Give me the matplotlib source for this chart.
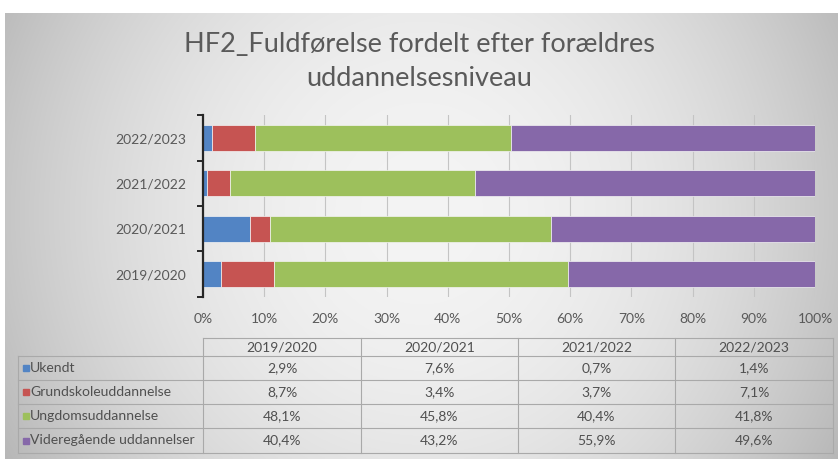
import numpy as np
import matplotlib
matplotlib.use("Agg")
import matplotlib.pyplot as plt
from matplotlib.patches import Rectangle
from matplotlib.lines import Line2D

plt.rcParams['font.family'] = ['Lato', 'DejaVu Sans']

# ---- data ----
years = ["2019/2020", "2020/2021", "2021/2022", "2022/2023"]
series = ["Ukendt", "Grundskoleuddannelse", "Ungdomsuddannelse", "Videregående uddannelser"]
ukendt = [2.9, 7.6, 0.7, 1.4]
grundskole = [8.7, 3.4, 3.7, 7.1]
ungdom = [48.1, 45.8, 40.4, 41.8]
videre = [40.4, 43.2, 55.9, 49.6]
colors = ["#5284c4", "#c65452", "#9dc05c", "#8668a9"]
xtick_labels = ["0%", "10%", "20%", "30%", "40%", "50%", "60%", "70%", "80%", "90%", "100%"]
title = "HF2_Fuldførelse fordelt efter forældres\nuddannelsesniveau"

W, H = 838, 459
fig = plt.figure(figsize=(W / 100, H / 100), dpi=100)
fig.patch.set_facecolor("white")

def fx(px):
    return px / W

def fy(py):
    return 1 - py / H

# background gradient
bg = fig.add_axes([fx(5), 0, 1 - fx(5), 1 - 13 / H])
bg.axis("off")
xx = np.linspace(-1, 1, 400)
yy = np.linspace(-1, 1, 200)
X, Y = np.meshgrid(xx, yy)
V = (244 - 46 * X ** 2 - 12 * (Y + 0.1) ** 2) / 255.0
V = np.clip(V, 0, 1)
img = np.dstack([V, V, V])
bg.imshow(img, aspect="auto", extent=[0, 1, 0, 1], interpolation="bilinear")
bg.set_xlim(0, 1)
bg.set_ylim(0, 1)

# main axes
left, right = 203, 815
top, bottom = 115.4, 296.7
ax = fig.add_axes([fx(left), fy(bottom), fx(right - left), (bottom - top) / H])
ax.set_facecolor("none")

data = np.array([ukendt, grundskole, ungdom, videre])
totals = data.sum(axis=0)
norm = data / totals
ypos = np.arange(len(years))
base = np.zeros(len(years))
for i, s in enumerate(series):
    ax.barh(ypos, norm[i], left=base, height=0.57, color=colors[i],
            edgecolor="#f4f4f4", linewidth=0.5, zorder=3, label=s)
    base = base + norm[i]

ax.set_xlim(0, 1)
ax.set_ylim(-0.5, len(years) - 0.5)
ax.set_xticks(np.linspace(0, 1, 11))
ax.set_xticklabels(xtick_labels, fontsize=10, color="#595959")
ax.tick_params(axis="x", length=0, pad=12)
ax.grid(axis="x", color="#c4c4c4", linewidth=0.8, zorder=0)
ax.set_yticks(ypos)
ax.set_yticklabels(years, fontsize=10, color="#595959")
ax.tick_params(axis="y", which="major", length=0, pad=12)
ax.set_yticks(np.arange(-0.5, len(years)), minor=True)
ax.tick_params(axis="y", which="minor", length=4.5, width=1.4, color="#262626", direction="out")
for sp in ["top", "right", "bottom"]:
    ax.spines[sp].set_visible(False)
ax.spines["left"].set_color("#262626")
ax.spines["left"].set_linewidth(1.6)
ax.spines["left"].set_zorder(4)

# title
fig.text(0.5, fy(61), title, ha="center", va="center", fontsize=19.5,
         fontweight="normal", color="#5a5a5a", linespacing=1.45)

# data table
col_x = [18, 203, 361, 518, 675, 833]
row_y = [338.3, 356, 380, 404, 428.3, 452.7]
lc = "#a9a9a9"
lw = 0.8
fig.add_artist(Line2D([fx(col_x[1]), fx(col_x[-1])], [fy(row_y[0])] * 2, color=lc, lw=lw))
for yv in row_y[1:]:
    fig.add_artist(Line2D([fx(col_x[0]), fx(col_x[-1])], [fy(yv)] * 2, color=lc, lw=lw))
fig.add_artist(Line2D([fx(col_x[0])] * 2, [fy(row_y[1]), fy(row_y[-1])], color=lc, lw=lw))
for xv in col_x[1:]:
    fig.add_artist(Line2D([fx(xv)] * 2, [fy(row_y[0]), fy(row_y[-1])], color=lc, lw=lw))

tc = "#505050"
for j, yr in enumerate(years):
    cx = (col_x[j + 1] + col_x[j + 2]) / 2
    fig.text(fx(cx), fy((row_y[0] + row_y[1]) / 2), yr, ha="center", va="center",
             fontsize=10, color=tc)
for i, s in enumerate(series):
    cy = (row_y[i + 1] + row_y[i + 2]) / 2
    fig.add_artist(Rectangle((fx(23), fy(cy + 3)), fx(6), 6 / H, color=colors[i]))
    fig.text(fx(30), fy(cy), s, ha="left", va="center", fontsize=10.1, color=tc)
    for j in range(len(years)):
        cx = (col_x[j + 1] + col_x[j + 2]) / 2
        txt = f"{data[i, j]:.1f}".replace(".", ",") + "%"
        fig.text(fx(cx), fy(cy), txt, ha="center", va="center", fontsize=10, color=tc)

fig.savefig("out.png", dpi=100)
